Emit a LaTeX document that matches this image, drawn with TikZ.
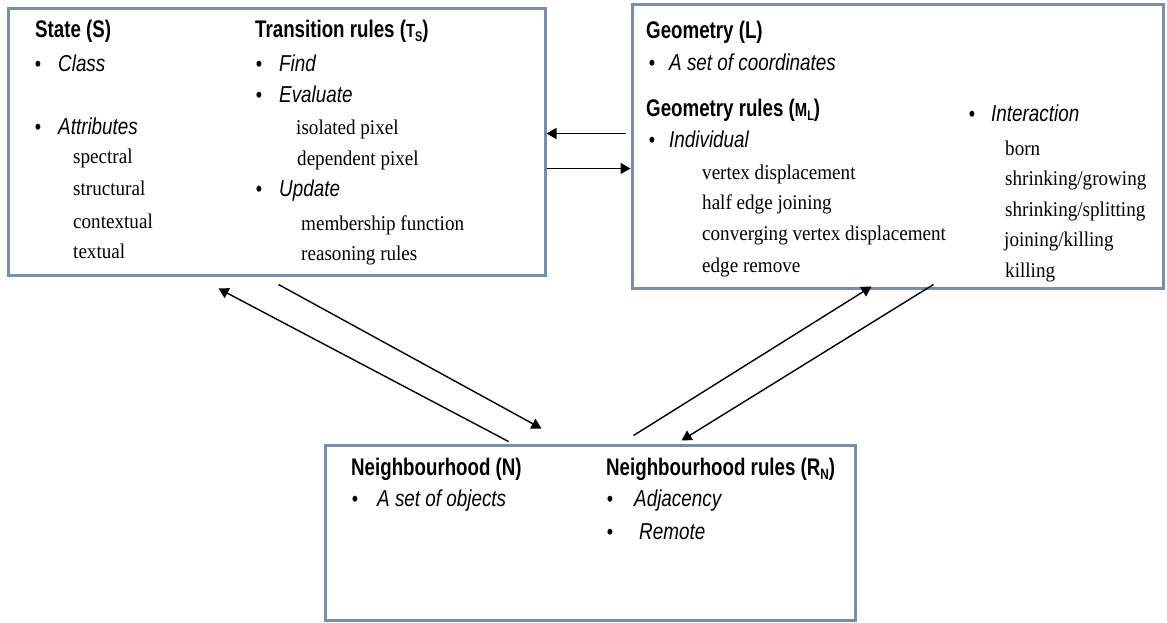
\documentclass[tikz,border=0pt]{standalone}
\usepackage{fontspec}
\usetikzlibrary{arrows.meta,calc}
\newfontfamily\headfont[FakeStretch=0.78]{Liberation Sans}
\newfontfamily\itemfont[FakeStretch=0.82]{Liberation Sans}
\newfontfamily\subfont[FakeStretch=0.91]{Liberation Serif}
\newcommand\hsub[2]{#1\raisebox{-4pt}{\fontsize{14}{14}\selectfont #2}}
\definecolor{boxline}{RGB}{122,143,166}
\tikzset{
  panel/.style={draw=boxline, line width=3pt, inner sep=0pt, rectangle},
  head/.style={anchor=base west, inner sep=0pt, font=\headfont\bfseries\fontsize{24}{24}\selectfont},
  item/.style={anchor=base west, inner sep=0pt, font=\itemfont\itshape\fontsize{23}{23}\selectfont},
  subitem/.style={anchor=base west, inner sep=0pt, font=\subfont\fontsize{21}{21}\selectfont},
  bul/.style={anchor=base, inner sep=0pt, font=\itemfont\fontsize{22}{22}\selectfont},
  arr/.style={line width=1.4pt, -{Triangle[length=10pt,width=11pt]}}
}
\begin{document}
\begin{tikzpicture}[x=1pt,y=-1pt]
\useasboundingbox (0,0) rectangle (1167,623);

% the three panels
\node[panel, minimum width=537pt, minimum height=266pt] (s) at (276.5,142) {};
\node[panel, minimum width=531pt, minimum height=283pt] (g) at (897.5,146.5) {};
\node[panel, minimum width=530pt, minimum height=175pt] (n) at (590,532.5) {};

% State panel, left column
\node[head] (sh) at (35,38) {State (S)};
\node[bul] (sb1) at (38,72) {•};
\node[item] (si1) at (58,72) {Class};
\node[bul] (sb2) at (38,135) {•};
\node[item] (si2) at (58,135) {Attributes};
\node[subitem] (ss1) at (73,164) {spectral};
\node[subitem] (ss2) at (73,195) {structural};
\node[subitem] (ss3) at (73,228) {contextual};
\node[subitem] (ss4) at (73,258) {textual};

% State panel, right column
\node[head] (th) at (255,38) {Transition rules (\hsub{{\fontsize{19}{19}\selectfont T}}{S})};
\node[bul] (tb1) at (259,72) {•};
\node[item] (ti1) at (279,72) {Find};
\node[bul] (tb2) at (259,103) {•};
\node[item] (ti2) at (279,103) {Evaluate};
\node[subitem] (ts1) at (296,135) {isolated pixel};
\node[subitem] (ts2) at (297,165) {dependent pixel};
\node[bul] (tb3) at (259,196) {•};
\node[item] (ti3) at (279,196) {Update};
\node[subitem] (ts3) at (301,230) {membership function};
\node[subitem] (ts4) at (301,260) {reasoning rules};

% Geometry panel
\node[head] (gh) at (646,39) {Geometry (L)};
\node[bul] (gb1) at (652,71) {•};
\node[item] (gi1) at (669,71) {A set of coordinates};
\node[head] (mh) at (646,117) {Geometry rules (\hsub{{\fontsize{19}{19}\selectfont M}}{L})};
\node[bul] (mb1) at (652,148) {•};
\node[item] (mi1) at (669,148) {Individual};
\node[subitem] (ms1) at (702,179) {vertex displacement};
\node[subitem] (ms2) at (702,209) {half edge joining};
\node[subitem] (ms3) at (702,240) {converging vertex displacement};
\node[subitem] (ms4) at (702,272) {edge remove};
\node[bul] (mb2) at (972,122) {•};
\node[item] (mi2) at (991,122) {Interaction};
\node[subitem] (mr1) at (1005,155) {born};
\node[subitem] (mr2) at (1005,185) {shrinking/growing};
\node[subitem] (mr3) at (1005,216) {shrinking/splitting};
\node[subitem] (mr4) at (1004,246) {joining/killing};
\node[subitem] (mr5) at (1005,277) {killing};

% Neighbourhood panel
\node[head] (nh) at (351,475) {Neighbourhood (N)};
\node[bul] (nb1) at (355,506) {•};
\node[item] (ni1) at (377,506) {A set of objects};
\node[head] (rh) at (606,475) {Neighbourhood rules (R\raisebox{-4pt}{\fontsize{15}{15}\selectfont N})};
\node[bul] (rb1) at (610,506) {•};
\node[item] (ri1) at (634,506) {Adjacency};
\node[bul] (rb2) at (610,539) {•};
\node[item] (ri2) at (639,539) {Remote};

% arrow ends near the panels
\coordinate (sg1) at ($(g.north west)+(-5,130)$);
\coordinate (sg2) at ($(s.north east)+(0,126)$);
\coordinate (sg3) at ($(s.north east)+(0,161)$);
\coordinate (sg4) at ($(g.north west)+(0,165)$);

\coordinate (sn1) at ($(n.north west)+(185,-2)$);
\coordinate (sn2) at ($(s.south west)+(212,12)$);
\coordinate (sn3) at ($(s.south west)+(272,8)$);
\coordinate (sn4) at ($(n.north west)+(218,-15)$);

\coordinate (gn1) at ($(n.north west)+(310,-8)$);
\coordinate (gn2) at ($(g.south west)+(241,-3)$);
\coordinate (gn3) at ($(g.south west)+(303,-5)$);
\coordinate (gn4) at ($(n.north west)+(358,-3)$);

% connectors
\draw[arr] (sg1) -- (sg2);
\draw[arr] (sg3) -- (sg4);
\draw[arr] (sn1) -- (sn2);
\draw[arr] (sn3) -- (sn4);
\draw[arr] (gn1) -- (gn2);
\draw[arr] (gn3) -- (gn4);
\end{tikzpicture}
\end{document}
